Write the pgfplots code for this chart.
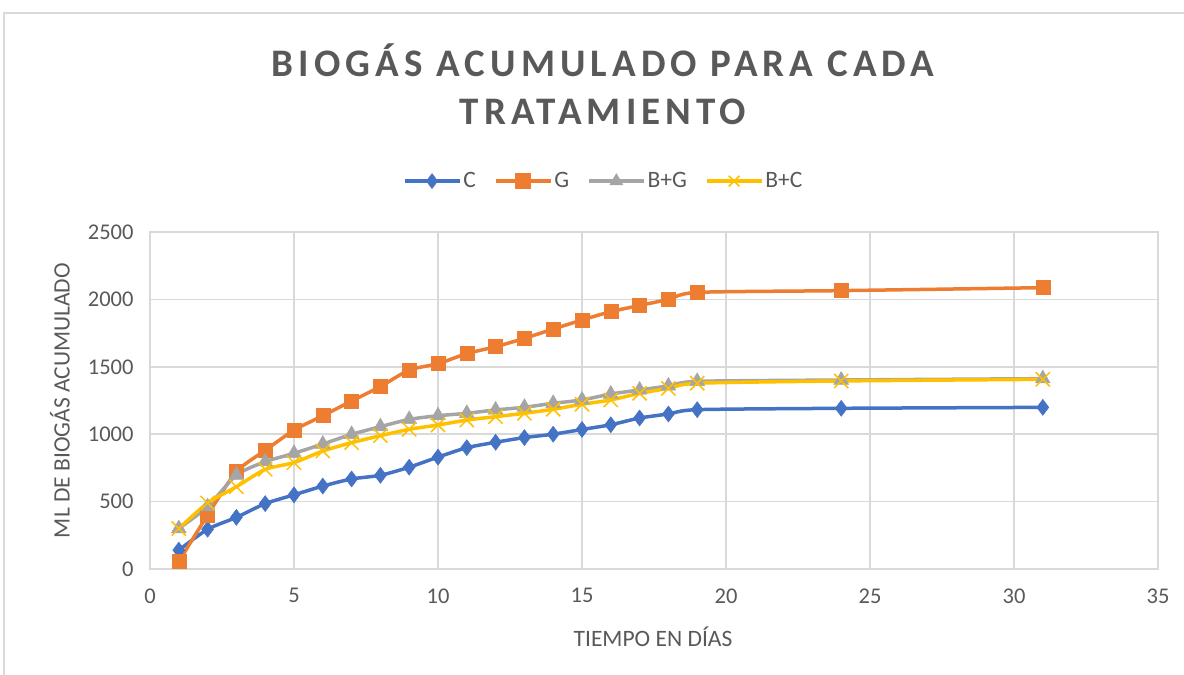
\documentclass[border=0pt]{standalone}
\usepackage{fontspec}
\setmainfont{Carlito}
\usepackage{pgfplots}
\pgfplotsset{compat=1.18}
\definecolor{cC}{HTML}{4472C4}
\definecolor{cG}{HTML}{ED7D31}
\definecolor{cBG}{HTML}{A5A5A5}
\definecolor{cBC}{HTML}{FFC000}
\definecolor{txt}{HTML}{595959}
\definecolor{grd}{HTML}{D9D9D9}
\begin{document}
\begin{tikzpicture}
\path[use as bounding box] (0,0) rectangle (1184bp,675bp);
\draw[grd, line width=1.2bp] (4bp,-20bp) -- (4bp,662bp) -- (1220bp,662bp);
\begin{axis}[
  at={(150bp,106bp)}, anchor=south west,
  scale only axis, width=1008bp, height=337bp,
  xmin=0, xmax=35, ymin=0, ymax=2500,
  xtick={0,5,...,35}, ytick={0,500,...,2500},
  grid=major, major grid style={grd, line width=1.6bp},
  axis line style={grd, line width=1.6bp},
  major tick length=0pt,
  tick label style={font=\fontsize{22.5bp}{26bp}\selectfont, text=txt},
  /pgf/number format/assume math mode=true,
  /pgf/number format/1000 sep={},
  yticklabel style={xshift=-13bp},
  xticklabel style={yshift=-16bp},
  xlabel={TIEMPO EN DÍAS}, ylabel={ML DE BIOGÁS ACUMULADO},
  label style={font=\fontsize{23.5bp}{27bp}\selectfont, text=txt},
  xlabel style={at={(axis description cs:0.499,-0.202)}, anchor=center},
  ylabel style={at={(axis description cs:-0.0893,0.5)}, anchor=center},
  legend columns=4,
  legend style={at={(axis description cs:0.450,1.151)}, anchor=center, draw=none, fill=none,
    font=\fontsize{23.5bp}{27bp}\selectfont, text=txt,
    /tikz/every even column/.append style={column sep=16bp}},
  legend image code/.code={\draw[mark repeat=2,mark phase=2,mark size=7.5bp] plot coordinates {(0bp,0bp)(27.5bp,0bp)(55bp,0bp)};},
  every axis plot/.append style={line width=3.5bp, smooth, tension=0.4},
  clip=false,
]
\addplot[cC, mark=diamond*, mark size=8bp, mark options={solid, fill=cC, line width=0.5bp}] coordinates {
(1,140)(2,295)(3,383)(4,485)(5,550)(6,615)(7,668)(8,695)(9,755)(10,830)
(11,900)(12,940)(13,975)(14,1000)(15,1035)(16,1070)(17,1120)(18,1150)(19,1182)(24,1192)(31,1199)};
\addlegendentry{C}
\addplot[cG, mark=square*, mark size=7bp, mark options={solid, fill=cG, line width=0.5bp}] coordinates {
(1,55)(2,400)(3,722)(4,880)(5,1030)(6,1137)(7,1246)(8,1353)(9,1476)(10,1523)
(11,1598)(12,1649)(13,1711)(14,1780)(15,1847)(16,1909)(17,1955)(18,2000)(19,2052)(24,2065)(31,2087)};
\addlegendentry{G}
\addplot[cBG, mark=triangle*, mark size=8.5bp, mark options={solid, fill=cBG, line width=0.5bp}] coordinates {
(1,300)(2,462)(3,697)(4,796)(5,858)(6,927)(7,999)(8,1056)(9,1110)(10,1137)
(11,1155)(12,1180)(13,1200)(14,1229)(15,1254)(16,1298)(17,1328)(18,1358)(19,1392)(24,1402)(31,1412)};
\addlegendentry{B+G}
\addplot[cBC, mark=x, mark size=10bp, mark options={solid, line width=1.5bp}] coordinates {
(1,300)(2,490)(3,610)(4,739)(5,789)(6,875)(7,937)(8,989)(9,1036)(10,1068)
(11,1105)(12,1130)(13,1155)(14,1185)(15,1222)(16,1254)(17,1303)(18,1340)(19,1378)(24,1395)(31,1407)};
\addlegendentry{B+C}
\end{axis}
\node[font=\fontsize{39bp}{46bp}\selectfont\bfseries\addfontfeature{LetterSpace=13}, text=txt, anchor=center] at (603bp,615bp) {BIOGÁS ACUMULADO PARA CADA};
\node[font=\fontsize{39bp}{46bp}\selectfont\bfseries\addfontfeature{LetterSpace=13}, text=txt, anchor=center] at (603bp,563bp) {TRATAMIENTO};
\end{tikzpicture}
\end{document}
